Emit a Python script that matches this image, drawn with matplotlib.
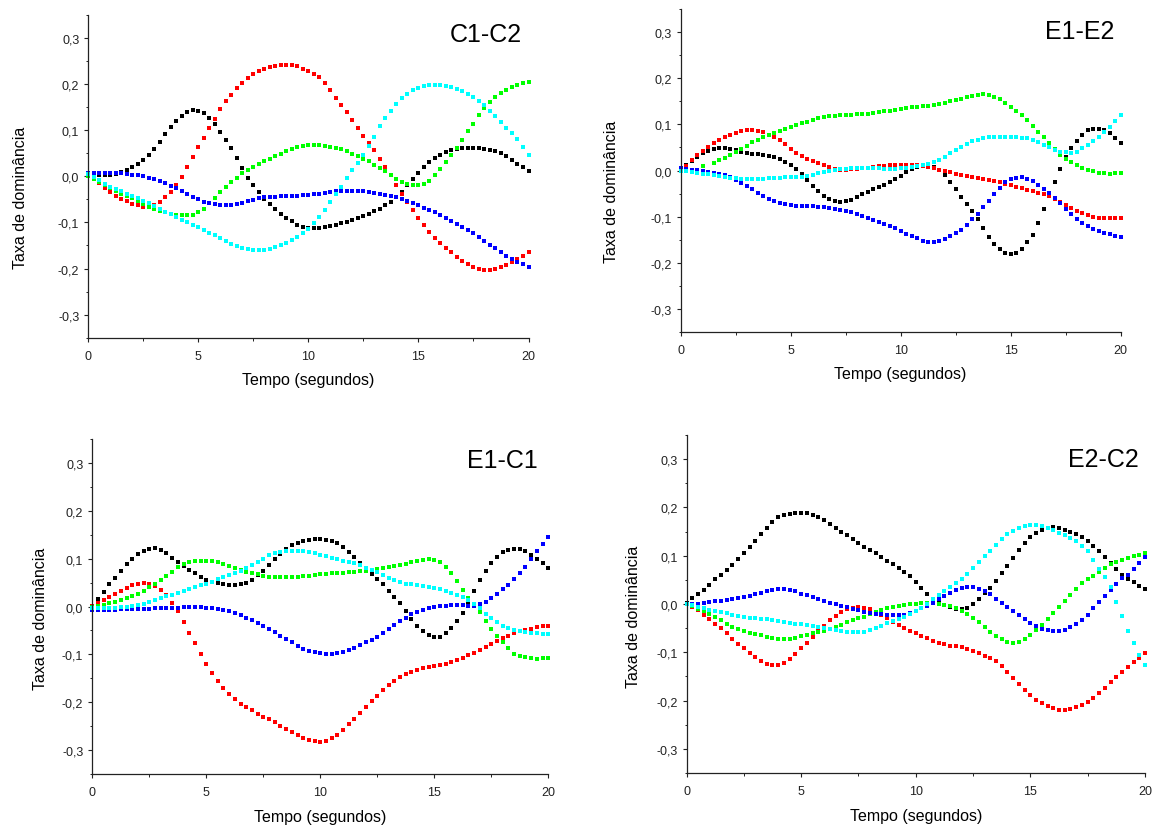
import numpy as np
import matplotlib
matplotlib.use("Agg")
import matplotlib.pyplot as plt
from matplotlib.ticker import FixedLocator, FixedFormatter, MultipleLocator

nan = float("nan")

# ---------------- data (0.25 s step) ----------------
TIME = np.linspace(0.0, 20.0, 81)

PANEL_TITLES = ["C1-C2", "E1-E2", "E1-C1", "E2-C2"]
SERIES_COLORS = ["#000000", "#ff0000", "#00ff00", "#0000ff", "#00ffff"]
X_TICKS = [0, 5, 10, 15, 20]
X_TICK_LABELS = ["0", "5", "10", "15", "20"]
Y_TICKS = [-0.3, -0.2, -0.1, 0.0, 0.1, 0.2, 0.3]
Y_TICK_LABELS = ["-0,3", "-0,2", "-0,1", "0,0", "0,1", "0,2", "0,3"]
X_LABEL = "Tempo (segundos)"
Y_LABEL = "Taxa de dominância"

C1C2_BLACK = [0.000, 0.002, 0.002, 0.002, 0.003, 0.005, 0.009, 0.014, 0.020, 0.026,
              0.035, 0.046, 0.060, 0.075, 0.091, 0.107, 0.119, 0.131, 0.139, 0.143,
              0.142, 0.136, 0.126, 0.113, 0.095, 0.078, 0.061, 0.040, 0.018, -0.003,
              -0.019, -0.034, -0.049, -0.060, -0.071, -0.081, -0.090, -0.098, -0.105, -0.110,
              -0.112, -0.113, -0.113, -0.111, -0.108, -0.106, -0.102, -0.099, -0.095, -0.090,
              -0.086, -0.081, -0.076, -0.070, -0.063, -0.055, -0.046, -0.034, -0.019, -0.006,
              0.007, 0.021, 0.031, 0.040, 0.047, 0.052, 0.057, 0.060, 0.062, 0.062,
              0.062, 0.062, 0.059, 0.056, 0.054, 0.050, 0.043, 0.035, 0.027, 0.019,
              0.011]
C1C2_RED = [0.000, -0.006, -0.014, -0.025, -0.035, -0.043, -0.049, -0.054, -0.060, -0.063,
            -0.066, -0.066, -0.062, -0.055, -0.046, -0.035, -0.020, -0.001, 0.020, 0.042,
            0.063, 0.083, 0.104, 0.125, 0.146, 0.162, 0.177, 0.191, 0.203, 0.213,
            0.221, 0.228, 0.233, 0.236, 0.239, 0.241, 0.241, 0.240, 0.238, 0.233,
            0.228, 0.222, 0.214, 0.202, 0.186, 0.170, 0.155, 0.140, 0.122, 0.104,
            0.088, 0.072, 0.056, 0.038, 0.020, 0.002, -0.018, -0.038, -0.056, -0.073,
            -0.091, -0.106, -0.120, -0.133, -0.145, -0.155, -0.165, -0.174, -0.183, -0.191,
            -0.197, -0.201, -0.203, -0.203, -0.201, -0.197, -0.192, -0.186, -0.179, -0.172,
            -0.165]
C1C2_GREEN = [0.000, -0.006, -0.013, -0.020, -0.026, -0.032, -0.038, -0.043, -0.048, -0.054,
              -0.060, -0.066, -0.071, -0.075, -0.078, -0.081, -0.083, -0.084, -0.084, -0.083,
              -0.078, -0.070, -0.058, -0.047, -0.035, -0.024, -0.013, -0.003, 0.006, 0.014,
              0.021, 0.027, 0.032, 0.038, 0.043, 0.049, 0.054, 0.058, 0.063, 0.066,
              0.068, 0.068, 0.068, 0.066, 0.064, 0.061, 0.058, 0.054, 0.049, 0.044,
              0.038, 0.032, 0.025, 0.018, 0.011, 0.003, -0.005, -0.012, -0.017, -0.019,
              -0.020, -0.017, -0.010, 0.002, 0.016, 0.031, 0.045, 0.061, 0.078, 0.097,
              0.114, 0.132, 0.147, 0.160, 0.171, 0.180, 0.187, 0.193, 0.197, 0.201,
              0.204]
C1C2_BLUE = [0.0065, 0.0065, 0.0065, 0.0065, 0.0065, 0.006, 0.006, 0.005, 0.003, 0.002,
             0.000, -0.003, -0.006, -0.010, -0.015, -0.021, -0.026, -0.032, -0.038, -0.044,
             -0.050, -0.055, -0.059, -0.061, -0.062, -0.062, -0.062, -0.060, -0.057, -0.054,
             -0.051, -0.048, -0.046, -0.045, -0.044, -0.043, -0.043, -0.043, -0.042, -0.041,
             -0.040, -0.039, -0.038, -0.036, -0.035, -0.033, -0.032, -0.031, -0.031, -0.031,
             -0.033, -0.034, -0.036, -0.038, -0.040, -0.043, -0.046, -0.050, -0.054, -0.058,
             -0.063, -0.068, -0.073, -0.078, -0.084, -0.090, -0.096, -0.103, -0.110, -0.117,
             -0.124, -0.131, -0.140, -0.148, -0.156, -0.164, -0.172, -0.179, -0.186, -0.191,
             -0.196]
C1C2_CYAN = [0.005, -0.002, -0.009, -0.017, -0.023, -0.028, -0.033, -0.038, -0.043, -0.048,
             -0.053, -0.059, -0.065, -0.071, -0.077, -0.082, -0.088, -0.094, -0.100, -0.105,
             -0.111, -0.116, -0.122, -0.128, -0.134, -0.140, -0.146, -0.151, -0.155, -0.158,
             -0.160, -0.160, -0.159, -0.157, -0.153, -0.149, -0.144, -0.138, -0.132, -0.123,
             -0.114, -0.102, -0.089, -0.073, -0.055, -0.039, -0.023, -0.003, 0.013, 0.028,
             0.046, 0.065, 0.086, 0.108, 0.126, 0.142, 0.157, 0.170, 0.179, 0.186,
             0.192, 0.195, 0.198, 0.198, 0.198, 0.196, 0.193, 0.189, 0.185, 0.179,
             0.172, 0.164, 0.154, 0.142, 0.130, 0.118, 0.105, 0.093, 0.080, 0.063,
             0.046]

E1E2_BLACK = [0.000, 0.011, 0.021, 0.029, 0.037, 0.042, 0.046, 0.049, 0.049, 0.047,
              0.044, 0.041, 0.038, 0.036, 0.035, 0.034, 0.032, 0.029, 0.025, 0.019,
              0.012, 0.003, -0.008, -0.020, -0.033, -0.045, -0.055, -0.062, -0.067, -0.069,
              -0.067, -0.063, -0.057, -0.051, -0.046, -0.040, -0.035, -0.031, -0.025, -0.018,
              -0.011, -0.004, 0.003, 0.008, 0.011, 0.012, 0.008, 0.001, -0.010, -0.024,
              -0.040, -0.057, -0.072, -0.087, -0.106, -0.125, -0.144, -0.160, -0.171, -0.179,
              -0.181, -0.178, -0.170, -0.156, -0.140, -0.113, -0.083, -0.056, -0.026, 0.003,
              0.030, 0.049, 0.063, 0.078, 0.087, 0.091, 0.091, 0.088, 0.082, 0.071,
              0.060]
E1E2_RED = [0.000, 0.010, 0.022, 0.034, 0.043, 0.051, 0.059, 0.066, 0.072, 0.078,
            0.082, 0.085, 0.087, 0.088, 0.086, 0.083, 0.078, 0.072, 0.066, 0.057,
            0.047, 0.038, 0.031, 0.025, 0.021, 0.016, 0.012, 0.007, 0.004, 0.002,
            0.002, 0.003, 0.004, 0.005, 0.006, 0.007, 0.009, 0.010, 0.011, 0.011,
            0.011, 0.011, 0.011, 0.011, 0.010, 0.008, 0.005, 0.002, -0.001, -0.004,
            -0.007, -0.010, -0.012, -0.015, -0.017, -0.019, -0.021, -0.023, -0.026, -0.029,
            -0.032, -0.035, -0.038, -0.042, -0.045, -0.049, -0.052, -0.056, -0.061, -0.068,
            -0.074, -0.081, -0.087, -0.092, -0.097, -0.100, -0.102, -0.103, -0.104, -0.104,
            -0.104]
E1E2_GREEN = [nan, nan, nan, nan, 0.009, nan, 0.017, 0.022, 0.027, 0.033,
              0.040, 0.047, 0.054, 0.061, 0.067, 0.072, 0.077, 0.082, 0.086, 0.090,
              0.094, 0.098, 0.102, 0.106, 0.110, 0.113, 0.116, 0.118, 0.119, 0.120,
              0.121, 0.121, 0.122, 0.122, 0.122, 0.124, 0.126, 0.128, 0.130, 0.131,
              0.133, 0.135, 0.137, 0.138, 0.139, 0.140, 0.142, 0.144, 0.147, 0.150,
              0.153, 0.156, 0.159, 0.161, 0.163, 0.165, 0.164, 0.160, 0.154, 0.146,
              0.138, 0.130, 0.121, 0.109, 0.097, 0.084, 0.072, 0.060, 0.046, 0.034,
              0.025, 0.018, 0.012, 0.006, 0.002, -0.002, -0.005, -0.006, -0.007, -0.006,
              -0.005]
E1E2_BLUE = [0.005, 0.004, 0.002, 0.001, -0.001, -0.003, -0.005, -0.007, -0.010, -0.014,
             -0.020, -0.027, -0.034, -0.041, -0.049, -0.056, -0.062, -0.066, -0.070, -0.073,
             -0.075, -0.076, -0.077, -0.077, -0.078, -0.079, -0.080, -0.081, -0.083, -0.085,
             -0.088, -0.091, -0.095, -0.099, -0.103, -0.108, -0.112, -0.116, -0.120, -0.125,
             -0.131, -0.137, -0.142, -0.147, -0.152, -0.154, -0.154, -0.152, -0.148, -0.143,
             -0.136, -0.128, -0.118, -0.106, -0.094, -0.080, -0.066, -0.051, -0.037, -0.026,
             -0.019, -0.016, -0.015, -0.018, -0.023, -0.031, -0.040, -0.049, -0.059, -0.070,
             -0.083, -0.095, -0.105, -0.113, -0.120, -0.126, -0.131, -0.135, -0.138, -0.141,
             -0.144]
E1E2_CYAN = [0.000, -0.002, -0.003, -0.005, -0.007, -0.008, -0.010, -0.012, -0.014, -0.016,
             -0.017, -0.018, -0.019, -0.019, -0.018, -0.018, -0.017, -0.017, -0.016, -0.015,
             -0.015, -0.014, -0.014, -0.012, -0.009, -0.006, -0.003, 0.000, 0.002, 0.003,
             0.004, 0.005, 0.005, 0.005, 0.005, 0.005, 0.005, 0.004, 0.004, 0.004,
             0.005, 0.006, 0.007, 0.009, 0.011, 0.014, 0.018, 0.023, 0.030, 0.037,
             0.044, 0.051, 0.057, 0.063, 0.067, 0.070, 0.072, 0.073, 0.073, 0.073,
             0.073, 0.072, 0.071, 0.070, 0.067, 0.062, 0.056, 0.050, 0.045, 0.041,
             0.040, 0.039, 0.041, 0.048, 0.056, 0.064, 0.073, 0.084, 0.095, 0.107,
             0.120]

E1C1_BLACK = [0.000, 0.015, 0.031, 0.046, 0.060, 0.075, 0.088, 0.100, 0.110, 0.117,
              0.121, 0.122, 0.118, 0.111, 0.102, 0.093, 0.085, 0.077, 0.069, 0.061,
              0.056, 0.052, 0.049, 0.046, 0.045, 0.045, 0.046, 0.050, 0.056, 0.065,
              0.075, 0.086, 0.099, 0.110, 0.120, 0.128, 0.132, 0.136, 0.140, 0.142,
              0.141, 0.140, 0.137, 0.132, 0.124, 0.114, 0.103, 0.090, 0.079, 0.068,
              0.057, 0.046, 0.033, 0.020, 0.007, -0.009, -0.027, -0.040, -0.051, -0.060,
              -0.064, -0.064, -0.055, -0.044, -0.031, -0.013, 0.008, 0.032, 0.055, 0.075,
              0.091, 0.103, 0.113, 0.118, 0.121, 0.120, 0.115, 0.108, 0.100, 0.090,
              0.080]
E1C1_RED = [0.002, 0.008, 0.014, 0.020, 0.027, 0.033, 0.039, 0.044, 0.047, 0.049,
            0.048, 0.042, 0.035, 0.023, 0.008, -0.010, -0.032, -0.055, -0.077, -0.100,
            -0.121, -0.138, -0.155, -0.170, -0.183, -0.194, -0.203, -0.211, -0.217, -0.224,
            -0.230, -0.236, -0.242, -0.249, -0.256, -0.263, -0.269, -0.275, -0.279, -0.282,
            -0.283, -0.280, -0.275, -0.268, -0.258, -0.246, -0.235, -0.222, -0.210, -0.198,
            -0.186, -0.175, -0.165, -0.156, -0.148, -0.142, -0.137, -0.133, -0.129, -0.127,
            -0.125, -0.122, -0.120, -0.116, -0.112, -0.107, -0.102, -0.097, -0.091, -0.085,
            -0.079, -0.072, -0.066, -0.061, -0.056, -0.052, -0.049, -0.046, -0.043, -0.041,
            -0.040]
E1C1_GREEN = [0.000, 0.002, 0.004, 0.007, 0.010, 0.014, 0.018, 0.022, 0.027, 0.033,
              0.040, 0.047, 0.055, 0.064, 0.073, 0.082, 0.088, 0.092, 0.095, 0.096,
              0.096, 0.095, 0.092, 0.088, 0.085, 0.081, 0.077, 0.073, 0.070, 0.067,
              0.064, 0.062, 0.061, 0.061, 0.061, 0.061, 0.062, 0.063, 0.064, 0.066,
              0.067, 0.068, 0.069, 0.070, 0.071, 0.072, 0.073, 0.074, 0.075, 0.076,
              0.078, 0.080, 0.082, 0.084, 0.086, 0.089, 0.092, 0.095, 0.098, 0.099,
              0.098, 0.092, 0.083, 0.071, 0.054, 0.034, 0.017, 0.002, -0.012, -0.030,
              -0.048, -0.062, -0.075, -0.087, -0.099, -0.103, -0.106, -0.108, -0.109, -0.108,
              -0.108]
E1C1_BLUE = [-0.008, -0.008, -0.007, -0.007, -0.007, -0.006, -0.006, -0.006, -0.005, -0.005,
             -0.005, -0.004, -0.004, -0.004, -0.003, -0.003, -0.002, -0.002, -0.002, -0.002,
             -0.003, -0.004, -0.005, -0.007, -0.010, -0.014, -0.018, -0.023, -0.028, -0.034,
             -0.041, -0.047, -0.054, -0.061, -0.068, -0.075, -0.082, -0.088, -0.093, -0.096,
             -0.098, -0.099, -0.099, -0.098, -0.095, -0.091, -0.086, -0.081, -0.075, -0.069,
             -0.063, -0.055, -0.047, -0.039, -0.031, -0.023, -0.016, -0.011, -0.007, -0.004,
             -0.001, 0.001, 0.002, 0.003, 0.003, 0.003, 0.002, 0.002, 0.005, 0.010,
             0.017, 0.026, 0.036, 0.045, 0.058, 0.070, 0.083, 0.099, 0.115, 0.131,
             0.146]
E1C1_CYAN = [-0.003, -0.003, -0.003, -0.003, -0.003, -0.002, 0.000, 0.001, 0.004, 0.006,
             0.010, 0.013, 0.017, 0.021, 0.024, 0.028, 0.032, 0.036, 0.040, 0.044,
             0.048, 0.052, 0.057, 0.061, 0.065, 0.070, 0.075, 0.080, 0.087, 0.093,
             0.100, 0.108, 0.112, 0.114, 0.116, 0.117, 0.116, 0.115, 0.113, 0.111,
             0.108, 0.105, 0.102, 0.099, 0.096, 0.093, 0.090, 0.086, 0.081, 0.077,
             0.072, 0.066, 0.060, 0.055, 0.051, 0.048, 0.046, 0.044, 0.042, 0.040,
             0.038, 0.036, 0.033, 0.029, 0.025, 0.020, 0.013, 0.006, -0.004, -0.015,
             -0.025, -0.033, -0.040, -0.045, -0.049, -0.052, -0.054, -0.055, -0.056, -0.057,
             -0.057]

E2C2_BLACK = [0.002, 0.012, 0.020, 0.030, 0.040, 0.051, 0.061, 0.070, 0.080, 0.093,
              0.106, 0.118, 0.131, 0.145, 0.158, 0.170, 0.180, 0.184, 0.187, 0.188,
              0.188, 0.188, 0.185, 0.180, 0.173, 0.165, 0.157, 0.149, 0.142, 0.134,
              0.126, 0.118, 0.111, 0.105, 0.097, 0.090, 0.083, 0.075, 0.066, 0.057,
              0.045, 0.034, 0.020, 0.010, 0.004, -0.002, -0.007, -0.010, -0.011, -0.008,
              0.001, 0.011, 0.022, 0.034, 0.048, 0.064, 0.079, 0.095, 0.111, 0.127,
              0.139, 0.148, 0.154, 0.157, 0.159, 0.157, 0.154, 0.149, 0.144, 0.138,
              0.131, 0.121, 0.110, 0.098, 0.085, 0.072, 0.060, 0.052, 0.045, 0.037,
              0.031]
E2C2_RED = [0.000, -0.006, -0.013, -0.022, -0.031, -0.041, -0.050, -0.060, -0.072, -0.082,
            -0.092, -0.101, -0.110, -0.118, -0.124, -0.127, -0.127, -0.123, -0.114, -0.103,
            -0.092, -0.080, -0.068, -0.056, -0.045, -0.034, -0.024, -0.016, -0.011, -0.008,
            -0.007, -0.008, -0.011, -0.016, -0.022, -0.028, -0.037, -0.044, -0.050, -0.055,
            -0.061, -0.066, -0.071, -0.076, -0.080, -0.083, -0.086, -0.088, -0.090, -0.093,
            -0.097, -0.102, -0.107, -0.112, -0.119, -0.129, -0.141, -0.154, -0.166, -0.178,
            -0.189, -0.198, -0.206, -0.212, -0.216, -0.219, -0.219, -0.217, -0.213, -0.209,
            -0.203, -0.195, -0.185, -0.174, -0.162, -0.151, -0.140, -0.130, -0.120, -0.111,
            -0.102]
E2C2_GREEN = [0.000, -0.005, -0.010, -0.015, -0.020, -0.027, -0.034, -0.041, -0.047, -0.052,
              -0.056, -0.060, -0.063, -0.065, -0.068, -0.070, -0.072, -0.073, -0.072, -0.070,
              -0.067, -0.064, -0.061, -0.058, -0.055, -0.051, -0.047, -0.043, -0.038, -0.034,
              -0.030, -0.026, -0.021, -0.017, -0.012, -0.008, -0.006, -0.004, -0.003, -0.001,
              0.001, 0.003, 0.003, 0.003, 0.001, -0.002, -0.005, -0.009, -0.015, -0.021,
              -0.029, -0.038, -0.048, -0.058, -0.066, -0.073, -0.078, -0.080, -0.078, -0.073,
              -0.064, -0.054, -0.044, -0.032, -0.019, -0.007, 0.006, 0.019, 0.031, 0.043,
              0.052, 0.059, 0.067, 0.075, 0.082, 0.087, 0.092, 0.096, 0.099, 0.102,
              0.105]
E2C2_BLUE = [0.001, 0.001, 0.001, 0.002, 0.004, 0.006, 0.007, 0.008, 0.010, 0.013,
             0.015, 0.017, 0.020, 0.023, 0.026, 0.029, 0.032, 0.032, 0.030, 0.026,
             0.021, 0.018, 0.014, 0.011, 0.007, 0.003, 0.000, -0.004, -0.007, -0.010,
             -0.013, -0.016, -0.018, -0.020, -0.021, -0.022, -0.023, -0.023, -0.022, -0.019,
             -0.014, -0.009, -0.004, 0.003, 0.010, 0.016, 0.022, 0.028, 0.033, 0.035,
             0.035, 0.032, 0.027, 0.020, 0.011, 0.003, -0.006, -0.014, -0.022, -0.031,
             -0.039, -0.046, -0.051, -0.054, -0.056, -0.056, -0.053, -0.048, -0.041, -0.033,
             -0.022, -0.009, 0.005, 0.017, 0.030, 0.042, 0.053, 0.061, 0.072, 0.085,
             0.098]
E2C2_CYAN = [0.000, -0.003, -0.006, -0.009, -0.012, -0.014, -0.017, -0.019, -0.022, -0.024,
             -0.026, -0.028, -0.029, -0.031, -0.032, -0.034, -0.036, -0.037, -0.039, -0.041,
             -0.042, -0.044, -0.045, -0.047, -0.049, -0.051, -0.053, -0.055, -0.057, -0.059,
             -0.059, -0.058, -0.054, -0.050, -0.045, -0.039, -0.035, -0.031, -0.026, -0.020,
             -0.015, -0.008, 0.001, 0.010, 0.019, 0.027, 0.036, 0.044, 0.052, 0.062,
             0.074, 0.086, 0.099, 0.110, 0.122, 0.134, 0.144, 0.152, 0.157, 0.162,
             0.163, 0.163, 0.161, 0.157, 0.153, 0.148, 0.143, 0.137, 0.130, 0.121,
             0.110, 0.092, 0.072, 0.055, 0.035, 0.005, -0.025, -0.055, -0.080, -0.105,
             -0.126]

PANEL_SERIES = [
    [C1C2_BLACK, C1C2_RED, C1C2_GREEN, C1C2_BLUE, C1C2_CYAN],
    [E1E2_BLACK, E1E2_RED, E1E2_GREEN, E1E2_BLUE, E1E2_CYAN],
    [E1C1_BLACK, E1C1_RED, E1C1_GREEN, E1C1_BLUE, E1C1_CYAN],
    [E2C2_BLACK, E2C2_RED, E2C2_GREEN, E2C2_BLUE, E2C2_CYAN],
]

# ---------------- layout (pixels of a 1156 x 828 canvas) ----------------
W, H = 1156, 828
AX_PX = [(88.3, 528.5, 15.7, 338.8),
         (680.5, 1120.8, 10.0, 333.0),
         (92.4, 548.2, 440.0, 775.0),
         (686.5, 1145.0, 436.0, 774.0)]
TITLE_POS = [(0.985, 0.9195), (0.986, 0.909), (0.977, 0.9155), (0.9856, 0.907)]
XLABEL_PX = [(308.0, 380.0), (900.5, 375.0), (320.5, 818.0), (916.0, 816.7)]
YLABEL_PX = [(20.2, 198.0), (611.0, 192.0), (40.5, 619.0), (634.0, 617.0)]

plt.rcParams["font.family"] = ["Liberation Sans", "DejaVu Sans"]

fig = plt.figure(figsize=(W / 100, H / 100), dpi=100)
fig.patch.set_facecolor("white")

for i in range(4):
    l, r, t, b = AX_PX[i]
    ax = fig.add_axes([l / W, 1 - b / H, (r - l) / W, (b - t) / H])
    for vals, col in zip(PANEL_SERIES[i], SERIES_COLORS):
        ax.plot(TIME, vals, linestyle="none", marker="s", markersize=2.6,
                markeredgewidth=0, color=col, clip_on=False)
    ax.set_xlim(0, 20)
    ax.set_ylim(-0.35, 0.35)
    ax.spines["top"].set_visible(False)
    ax.spines["right"].set_visible(False)
    for s in ("left", "bottom"):
        ax.spines[s].set_linewidth(0.9)
        ax.spines[s].set_color("#222222")
    ax.xaxis.set_major_locator(FixedLocator(X_TICKS))
    ax.xaxis.set_major_formatter(FixedFormatter(X_TICK_LABELS))
    ax.xaxis.set_minor_locator(MultipleLocator(2.5))
    ax.yaxis.set_major_locator(FixedLocator(Y_TICKS))
    ax.yaxis.set_major_formatter(FixedFormatter(Y_TICK_LABELS))
    ax.yaxis.set_minor_locator(MultipleLocator(0.05))
    ax.tick_params(which="major", direction="out", length=3.0, width=0.8,
                   labelsize=9, colors="#222222")
    ax.tick_params(which="minor", direction="out", length=1.8, width=0.7, colors="#222222")
    ax.tick_params(axis="x", which="major", pad=6.0)
    ax.tick_params(axis="y", which="major", pad=3.5)
    ax.text(TITLE_POS[i][0], TITLE_POS[i][1], PANEL_TITLES[i], transform=ax.transAxes,
            ha="right", va="baseline", fontsize=18, color="black")
    xx, xy = XLABEL_PX[i]
    fig.text(xx / W, 1 - xy / H, X_LABEL, ha="center", va="center", fontsize=11.5)
    yx, yy = YLABEL_PX[i]
    fig.text(yx / W, 1 - yy / H, Y_LABEL, ha="center", va="center", fontsize=11.5,
             rotation=90)

fig.savefig("out.png", dpi=100, facecolor="white")
